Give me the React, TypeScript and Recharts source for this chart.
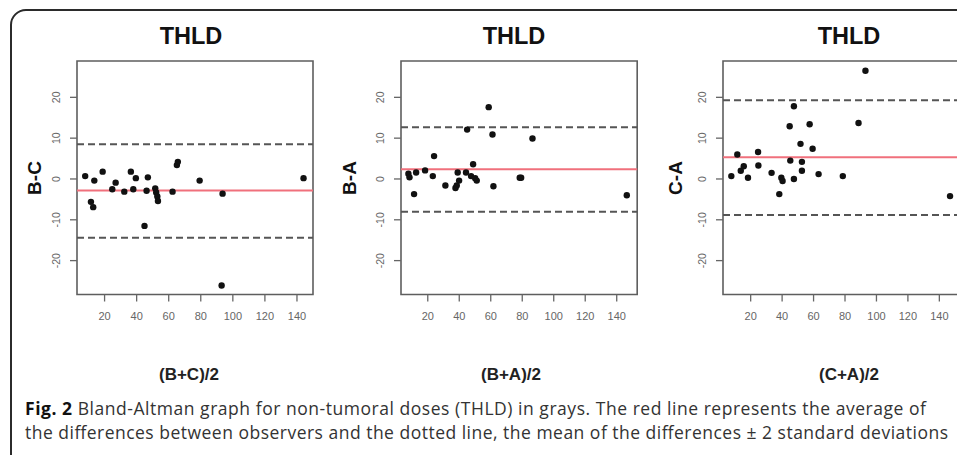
import React from 'react';
import { ScatterChart, Scatter, XAxis, YAxis, ReferenceLine, ReferenceArea } from 'recharts';

// tick labels
const xTicks = [20, 40, 60, 80, 100, 120, 140];
const yTicks = [-20, -10, 0, 10, 20];

// panel 1: B vs C
const bcAvg = [7.9, 11.5, 12.9, 13.6, 18.8, 24.8, 26.9, 32.3, 36.4, 37.9, 39.5, 44.9, 46.2, 47.0, 51.6, 52.2, 52.9, 53.3, 62.4, 65.1, 65.7, 79.3, 93.6, 93.0, 144.1];
const bcDiff = [0.7, -5.6, -6.9, -0.4, 1.8, -2.5, -0.9, -3.1, 1.8, -2.5, 0.2, -11.5, -2.9, 0.4, -2.3, -3.3, -4.3, -5.4, -3.1, 3.4, 4.2, -0.4, -3.6, -26.1, 0.2];
const bcLines = [-2.8, 8.5, -14.4]; // mean, +2sd, -2sd

// panel 2: B vs A
const baAvg = [7.7, 8.4, 11.3, 12.6, 18.3, 23.2, 24.0, 31.2, 37.6, 38.4, 39.0, 39.9, 44.3, 45.0, 47.5, 48.8, 50.1, 51.1, 58.7, 61.1, 61.7, 78.4, 79.3, 86.5, 146.4];
const baDiff = [1.3, 0.4, -3.7, 1.6, 2.1, 0.7, 5.6, -1.6, -2.2, -1.6, 1.6, -0.4, 1.6, 12.1, 0.7, 3.6, 0.2, -0.4, 17.6, 10.9, -1.8, 0.3, 0.3, 9.9, -4.0];
const baLines = [2.4, 12.7, -8.0];

// panel 3: C vs A
const caAvg = [7.7, 11.5, 13.7, 15.6, 18.3, 24.7, 24.9, 33.3, 38.2, 39.5, 40.3, 44.8, 45.2, 47.5, 47.5, 51.7, 52.6, 52.6, 57.5, 59.4, 63.2, 78.6, 88.6, 93.0, 146.8];
const caDiff = [0.7, 6.0, 2.0, 3.1, 0.3, 6.6, 3.3, 1.5, -3.7, 0.3, -0.5, 12.9, 4.5, 17.8, 0.0, 8.6, 4.2, 2.0, 13.4, 7.4, 1.2, 0.7, 13.7, 26.5, -4.2];
const caLines = [5.3, 19.3, -8.8];

const yDomain = [-28.3, 28.9];

const FONT = '"Liberation Sans", Arial, Helvetica, sans-serif';
const AXIS_W = 70;

const panels = [
    { title: 'THLD', yLabel: 'B-C', xLabel: '(B+C)/2', avg: bcAvg, diff: bcDiff, lines: bcLines, xDomain: [2.8, 150], boxLeft: 76.7, boxW: 236, titleX: 191, yLabX: 35, xLabX: 189 },
    { title: 'THLD', yLabel: 'B-A', xLabel: '(B+A)/2', avg: baAvg, diff: baDiff, lines: baLines, xDomain: [3, 153], boxLeft: 400.5, boxW: 236.2, titleX: 514, yLabX: 350, xLabX: 511 },
    { title: 'THLD', yLabel: 'C-A', xLabel: '(C+A)/2', avg: caAvg, diff: caDiff, lines: caLines, xDomain: [2.4, 152.5], boxLeft: 723.3, boxW: 236, titleX: 849, yLabX: 676, xLabX: 849 },
];

const YTick = (props: any) => {
    const { x, y, payload } = props;
    const bx = x - 8;
    return (
        <text x={bx} y={y} transform={`rotate(-90 ${bx} ${y})`} textAnchor="middle" fill="#666" fontSize={10.5} fontFamily={FONT}>
            {payload.value}
        </text>
    );
};

const Dot = (props: any) => <circle cx={props.cx} cy={props.cy} r={3.2} fill="#111" />;

function Panel({ p }: { p: (typeof panels)[number] }) {
    const data = p.avg.map((v, i) => ({ x: v, y: p.diff[i] }));
    const [mean, hi, lo] = p.lines;

    return (
        <>
            <div style={{ position: 'absolute', left: p.boxLeft - AXIS_W, top: 0 }}>
                <ScatterChart width={AXIS_W + p.boxW + 5} height={340} margin={{ top: 61, right: 5, left: 0, bottom: 0 }}>
                    <XAxis
                        type="number"
                        dataKey="x"
                        domain={p.xDomain}
                        ticks={xTicks}
                        allowDataOverflow
                        height={45.5}
                        axisLine={false}
                        tickLine={{ stroke: '#666', strokeWidth: 1.3 }}
                        tickSize={7}
                        tickMargin={11}
                        tick={{ fill: '#666', fontSize: 11, fontFamily: FONT }}
                    />
                    <YAxis
                        type="number"
                        dataKey="y"
                        domain={yDomain}
                        ticks={yTicks}
                        allowDataOverflow
                        width={AXIS_W}
                        axisLine={false}
                        tickLine={{ stroke: '#666', strokeWidth: 1.3 }}
                        tickSize={7}
                        tick={<YTick />}
                    />
                    <ReferenceArea x1={p.xDomain[0]} x2={p.xDomain[1]} y1={yDomain[0]} y2={yDomain[1]} fill="none" stroke="#5e5e5e" strokeWidth={1.6} />
                    <ReferenceLine y={hi} stroke="#555" strokeWidth={2} strokeDasharray="7 4" />
                    <ReferenceLine y={lo} stroke="#555" strokeWidth={2} strokeDasharray="7 4" />
                    <ReferenceLine y={mean} stroke="#f0707c" strokeWidth={2} />
                    <Scatter data={data} shape={<Dot />} isAnimationActive={false} />
                </ScatterChart>
            </div>
            <div style={{ position: 'absolute', left: p.titleX - 60, top: 22, width: 120, textAlign: 'center', fontFamily: FONT, fontWeight: 'bold', fontSize: 23.5, color: '#111', lineHeight: '28px' }}>
                {p.title}
            </div>
            <div style={{ position: 'absolute', left: p.yLabX, top: 178, transform: 'translate(-50%, -50%) rotate(-90deg)', fontFamily: FONT, fontWeight: 'bold', fontSize: 19, color: '#111', whiteSpace: 'nowrap', lineHeight: '20px' }}>
                {p.yLabel}
            </div>
            <div style={{ position: 'absolute', left: p.xLabX - 60, top: 365, width: 120, textAlign: 'center', fontFamily: FONT, fontWeight: 'bold', fontSize: 17, color: '#222', lineHeight: '20px' }}>
                {p.xLabel}
            </div>
        </>
    );
}

export default function App() {
    return (
        <div style={{ position: 'absolute', left: 0, top: 0, width: 957, height: 455, overflow: 'hidden', background: '#fff' }}>
            <div style={{ position: 'absolute', left: 10, top: 9, width: 1000, height: 500, border: '2px solid #2b2b2b', borderRadius: 16 }} />
            {panels.map((p, i) => (
                <Panel key={i} p={p} />
            ))}
            <svg width={957} height={455} style={{ position: 'absolute', left: 0, top: 0 }}>
                <text x={25} y={415} textLength={901} lengthAdjust="spacing" fontFamily='"Open Sans", sans-serif' fontSize={17.5} fill="#333">
                    <tspan fontWeight="bold" fill="#111">Fig. 2</tspan> Bland-Altman graph for non-tumoral doses (THLD) in grays. The red line represents the average of
                </text>
                <text x={25} y={439} textLength={923} lengthAdjust="spacing" fontFamily='"Open Sans", sans-serif' fontSize={17.5} fill="#333">
                    the differences between observers and the dotted line, the mean of the differences ± 2 standard deviations
                </text>
            </svg>
        </div>
    );
}
